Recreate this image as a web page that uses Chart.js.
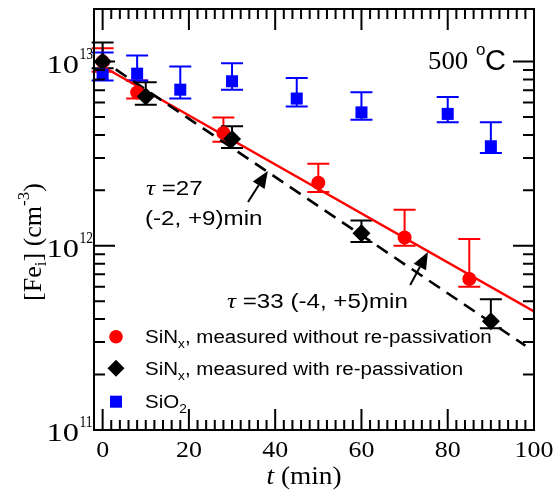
<!DOCTYPE html>
<html>
<head>
<meta charset="utf-8">
<script src="https://cdn.jsdelivr.net/npm/chart.js@4.4.1/dist/chart.umd.min.js"></script>
<style>
  html, body { margin: 0; padding: 0; background: #fff; }
  #chart { display: block; }
</style>
</head>
<body>
<canvas id="chart" width="558" height="494"></canvas>
<script>
// Données
const tRed = [0, 8, 28, 50, 70, 85];
const feRed = [1.0e13, 6.8e12, 4.1e12, 2.2e12, 1.11e12, 6.6e11];
const feRedHi = [1.18e13, 7.9e12, 4.97e12, 2.79e12, 1.57e12, 1.09e12];
const feRedLo = [8.8e12, 6.3e12, 3.67e12, 1.96e12, 1.0e12, 6.0e11];

const tBlack = [0, 10, 30, 60, 90];
const feBlack = [1.0e13, 6.47e12, 3.8e12, 1.17e12, 3.9e11];
const feBlackHi = [1.27e13, 7.73e12, 4.45e12, 1.37e12, 5.13e11];
const feBlackLo = [9.2e12, 5.83e12, 3.4e12, 1.05e12, 3.57e11];

const tBlue = [0, 8, 18, 30, 45, 60, 80, 90];
const feBlue = [8.5e12, 8.6e12, 7.04e12, 7.82e12, 6.3e12, 5.3e12, 5.2e12, 3.47e12];
const feBlueHi = [1.12e13, 1.08e13, 9.4e12, 9.8e12, 8.15e12, 6.81e12, 6.43e12, 4.68e12];
const feBlueLo = [7.9e12, 7.9e12, 6.3e12, 7.04e12, 5.7e12, 4.84e12, 4.68e12, 3.19e12];

// Ajustements exponentiels (extrémités)
const tFitRed = [-1.5, 100];
const feFitRed = [9.85e12, 4.4e11];
const tFitBlack = [-1, 98];
const feFitBlack = [1.05e13, 2.87e11];

// Graduations
const xMajor = [0, 20, 40, 60, 80, 100];
const yDecades = [1e11, 1e12, 1e13];
const yLabels = ['11', '12', '13'];

// Flèches (coordonnées des données) : [t queue, Fe queue, t pointe, Fe pointe]
const arrows = [
    [33.7, 1.73e12, 38.3, 2.55e12],
    [71.3, 6.12e11, 75.4, 9.25e11]
];

const SANS = "'Liberation Sans', Arial, sans-serif";
const SERIF = "'Liberation Serif', 'Times New Roman', serif";

function pts(xs, ys) {
    return xs.map((x, i) => ({ x: x, y: ys[i] }));
}

// Texte composé (indices / exposants), étiré horizontalement
function richWidth(ctx, parts) {
    let w = 0;
    parts.forEach(p => { ctx.font = p.font; w += ctx.measureText(p.t).width; });
    return w;
}
function drawRich(ctx, parts, x, y, align, sx) {
    sx = sx || 1;
    ctx.save();
    ctx.translate(x, y);
    ctx.scale(sx, 1);
    ctx.textBaseline = 'alphabetic';
    ctx.textAlign = 'left';
    let w = richWidth(ctx, parts);
    let cx = align === 'center' ? -w / 2 : (align === 'right' ? -w : 0);
    parts.forEach(p => {
        ctx.font = p.font;
        ctx.fillStyle = p.color || '#000';
        ctx.fillText(p.t, cx, p.dy || 0);
        cx += ctx.measureText(p.t).width;
    });
    ctx.restore();
}

const errorSets = [
    { t: tRed, lo: feRedLo, hi: feRedHi, color: '#ff0000' },
    { t: tBlack, lo: feBlackLo, hi: feBlackHi, color: '#000000' },
    { t: tBlue, lo: feBlueLo, hi: feBlueHi, color: '#0000ff' }
];

const errorBarsPlugin = {
    id: 'errorBars',
    beforeDatasetsDraw(chart) {
        const ctx = chart.ctx;
        const xs = chart.scales.x, ys = chart.scales.y;
        ctx.save();
        ctx.lineWidth = 2;
        errorSets.forEach(s => {
            ctx.strokeStyle = s.color;
            s.t.forEach((t, i) => {
                const px = xs.getPixelForValue(t);
                const p1 = ys.getPixelForValue(s.lo[i]);
                const p2 = ys.getPixelForValue(s.hi[i]);
                ctx.beginPath();
                ctx.moveTo(px, p1); ctx.lineTo(px, p2);
                ctx.moveTo(px - 11, p1); ctx.lineTo(px + 11, p1);
                ctx.moveTo(px - 11, p2); ctx.lineTo(px + 11, p2);
                ctx.stroke();
            });
        });
        ctx.restore();
    }
};

const framePlugin = {
    id: 'frame',
    afterDraw(chart) {
        const ctx = chart.ctx;
        const a = chart.chartArea;
        const xs = chart.scales.x, ys = chart.scales.y;
        ctx.save();
        ctx.strokeStyle = '#000';
        ctx.lineWidth = 2;
        ctx.strokeRect(a.left, a.top, a.right - a.left, a.bottom - a.top);

        // graduations x (intérieures, haut et bas)
        ctx.beginPath();
        for (let t = 0; t <= 100; t += 2) {
            const px = xs.getPixelForValue(t);
            const len = xMajor.includes(t) ? 21 : 10;
            ctx.moveTo(px, a.bottom); ctx.lineTo(px, a.bottom - len);
            ctx.moveTo(px, a.top); ctx.lineTo(px, a.top + len);
        }
        // graduations y (log)
        for (let d = 11; d <= 13; d++) {
            for (let m = 1; m <= 9; m++) {
                const v = m * Math.pow(10, d);
                if (v > ys.max) break;
                const py = ys.getPixelForValue(v);
                const len = m === 1 ? 21 : 11;
                ctx.moveTo(a.left, py); ctx.lineTo(a.left + len, py);
                ctx.moveTo(a.right, py); ctx.lineTo(a.right - len, py);
            }
        }
        ctx.stroke();

        // étiquettes x
        ctx.fillStyle = '#000';
        xMajor.forEach(t => {
            drawRich(ctx, [{ t: String(t), font: '24px ' + SERIF }],
                xs.getPixelForValue(t), 457, 'center', 1.08);
        });
        // étiquettes y
        yDecades.forEach((v, i) => {
            const py = ys.getPixelForValue(v);
            drawRich(ctx, [{ t: '10', font: '25px ' + SERIF }], 79, py + 11, 'right', 1.3);
            drawRich(ctx, [{ t: yLabels[i], font: '16px ' + SERIF }], 79.5, py - 3, 'left', 0.85);
        });

        // titre x
        drawRich(ctx, [
            { t: 't', font: 'italic 26px ' + SERIF },
            { t: ' (min)', font: '26px ' + SERIF }
        ], 304, 484, 'center', 1.05);

        // titre y
        ctx.save();
        ctx.translate(41, 242);
        ctx.rotate(-Math.PI / 2);
        drawRich(ctx, [
            { t: '[Fe', font: '26px ' + SERIF },
            { t: 'i', font: '17px ' + SERIF, dy: 5 },
            { t: '] (cm', font: '26px ' + SERIF },
            { t: '-3', font: '17px ' + SERIF, dy: -12 },
            { t: ')', font: '26px ' + SERIF }
        ], 0, 0, 'center', 1.0);
        ctx.restore();

        // température
        drawRich(ctx, [{ t: '500', font: '26px ' + SERIF }], 428, 69, 'left', 1.03);
        drawRich(ctx, [{ t: 'o', font: '17px ' + SANS }], 476, 55, 'left', 1.0);
        drawRich(ctx, [{ t: 'C', font: '29px ' + SANS }], 485, 70, 'left', 1.0);

        // annotations tau
        drawRich(ctx, [
            { t: 'τ', font: 'italic 22px ' + SERIF },
            { t: ' =27', font: '21px ' + SANS }
        ], 146, 195, 'left', 1.15);
        drawRich(ctx, [{ t: '(-2, +9)min', font: '21px ' + SANS }], 145, 225, 'left', 1.15);
        drawRich(ctx, [
            { t: 'τ', font: 'italic 22px ' + SERIF },
            { t: ' =33 (-4, +5)min', font: '21px ' + SANS }
        ], 227, 308, 'left', 1.15);

        // flèches
        ctx.fillStyle = '#000';
        ctx.lineWidth = 2;
        arrows.forEach(ar => {
            const x0 = xs.getPixelForValue(ar[0]), y0 = ys.getPixelForValue(ar[1]);
            const x1 = xs.getPixelForValue(ar[2]), y1 = ys.getPixelForValue(ar[3]);
            const ang = Math.atan2(y1 - y0, x1 - x0);
            const hl = 17, hw = 7;
            const bx = x1 - hl * Math.cos(ang), by = y1 - hl * Math.sin(ang);
            ctx.beginPath();
            ctx.moveTo(x0, y0); ctx.lineTo(bx, by);
            ctx.stroke();
            ctx.beginPath();
            ctx.moveTo(x1, y1);
            ctx.lineTo(bx + hw * Math.sin(ang), by - hw * Math.cos(ang));
            ctx.lineTo(bx - hw * Math.sin(ang), by + hw * Math.cos(ang));
            ctx.closePath();
            ctx.fill();
        });

        // légende
        const lx = 116;
        const rows = [336.7, 368.3, 401.7];
        ctx.fillStyle = '#ff0000';
        ctx.beginPath(); ctx.arc(lx, rows[0], 6.8, 0, Math.PI * 2); ctx.fill();
        ctx.fillStyle = '#000';
        ctx.beginPath();
        ctx.moveTo(lx, rows[1] - 8.5); ctx.lineTo(lx + 8.5, rows[1]);
        ctx.lineTo(lx, rows[1] + 8.5); ctx.lineTo(lx - 8.5, rows[1]);
        ctx.closePath(); ctx.fill();
        ctx.fillStyle = '#0000ff';
        ctx.fillRect(lx - 6, rows[2] - 6, 12, 12);

        const f = '18px ' + SANS, fs = '12px ' + SANS;
        drawRich(ctx, [
            { t: 'SiN', font: f }, { t: 'x', font: fs, dy: 5 },
            { t: ', measured without re-passivation', font: f }
        ], 145, rows[0] + 6.5, 'left', 1.14);
        drawRich(ctx, [
            { t: 'SiN', font: f }, { t: 'x', font: fs, dy: 5 },
            { t: ', measured with re-passivation', font: f }
        ], 145, rows[1] + 6.5, 'left', 1.14);
        drawRich(ctx, [
            { t: 'SiO', font: f }, { t: '2', font: fs, dy: 5 }
        ], 145, rows[2] + 6.5, 'left', 1.14);
        ctx.restore();
    }
};

const ctx = document.getElementById('chart').getContext('2d');
new Chart(ctx, {
    type: 'scatter',
    data: {
        datasets: [
            {
                label: 'SiO2',
                data: pts(tBlue, feBlue),
                pointStyle: 'rect',
                pointRadius: 8.5,
                backgroundColor: '#0000ff',
                borderColor: '#0000ff',
                borderWidth: 0
            },
            {
                label: 'SiNx, measured with re-passivation',
                data: pts(tBlack, feBlack),
                pointStyle: 'rectRot',
                pointRadius: 9,
                backgroundColor: '#000000',
                borderColor: '#000000',
                borderWidth: 0
            },
            {
                label: 'SiNx, measured without re-passivation',
                data: pts(tRed, feRed),
                pointStyle: 'circle',
                pointRadius: 7,
                backgroundColor: '#ff0000',
                borderColor: '#ff0000',
                borderWidth: 0
            },
            {
                label: 'fit 27 min',
                data: pts(tFitBlack, feFitBlack),
                showLine: true,
                pointRadius: 0,
                borderColor: '#000000',
                borderWidth: 2.6,
                borderDash: [13, 8]
            },
            {
                label: 'fit 33 min',
                data: pts(tFitRed, feFitRed),
                showLine: true,
                pointRadius: 0,
                borderColor: '#ff0000',
                borderWidth: 2.4
            }
        ]
    },
    options: {
        responsive: false,
        animation: false,
        layout: { padding: { left: 94, right: 24, top: 9, bottom: 64 } },
        plugins: {
            legend: { display: false },
            tooltip: { enabled: false }
        },
        scales: {
            x: { type: 'linear', min: -2, max: 100, display: false },
            y: { type: 'logarithmic', min: 1e11, max: 1.93e13, display: false }
        }
    },
    plugins: [errorBarsPlugin, framePlugin]
});
</script>
</body>
</html>
